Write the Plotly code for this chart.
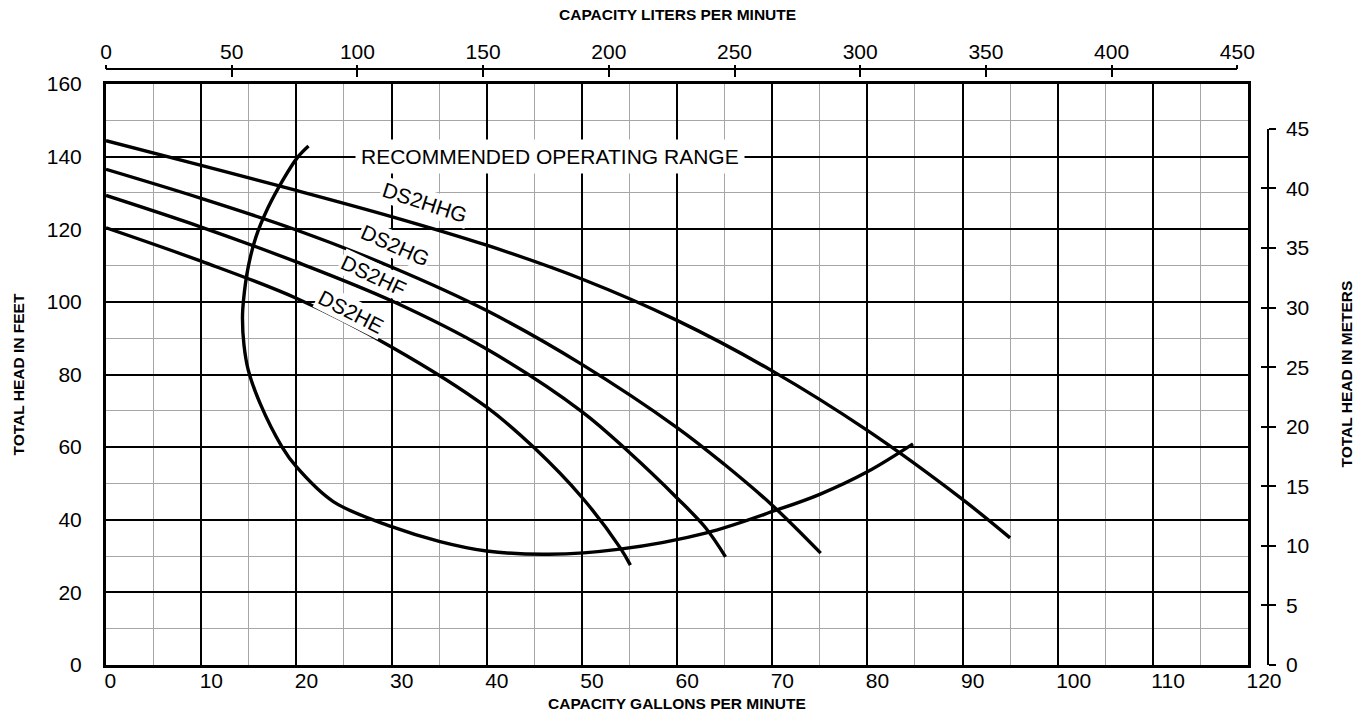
import plotly.graph_objects as go

# ---------------- data ----------------
gpm_ticks = [0, 10, 20, 30, 40, 50, 60, 70, 80, 90, 100, 110, 120]
lpm_ticks = [0, 50, 100, 150, 200, 250, 300, 350, 400, 450]
ft_ticks = [0, 20, 40, 60, 80, 100, 120, 140, 160]
m_ticks = [0, 5, 10, 15, 20, 25, 30, 35, 40, 45]

ds2hhg_gpm = [0, 10, 20, 30, 40, 50, 60, 70, 80, 90, 95]
ds2hhg_ft = [144.4, 137.6, 130.7, 123.5, 115.6, 106.3, 94.9, 81.0, 64.6, 45.6, 35.0]

ds2hg_gpm = [0, 10, 20, 30, 40, 50, 60, 65, 70, 75.1]
ds2hg_ft = [136.5, 128.5, 119.8, 109.6, 97.6, 82.8, 65.4, 55.2, 44.0, 30.8]

ds2hf_gpm = [0, 10, 20, 30, 40, 50, 55, 60, 63, 65.1]
ds2hf_ft = [129.3, 120.6, 111.0, 100.3, 87.0, 69.8, 58.5, 46.0, 37.8, 29.8]

ds2he_gpm = [0, 10, 20, 30, 40, 45, 50, 54, 55.1]
ds2he_ft = [120.4, 111.2, 101.0, 87.6, 71.0, 59.8, 46.2, 32.4, 27.5]

range_gpm = [21.28, 20.07, 18.6, 17.02, 15.76, 14.92, 14.45, 14.34, 14.5, 14.95, 16.18,
             18.49, 20.0, 23.88, 30.02, 35.1, 40.0, 46.5, 54.0, 63.1, 70.5, 75.0, 80.0, 84.8]
range_ft = [142.9, 139.6, 133.6, 125.9, 117.9, 109.3, 100.5, 95.6, 88.1, 81.2, 72.1,
            60.1, 54.6, 45.0, 38.1, 34.0, 31.4, 30.5, 31.9, 36.4, 42.7, 47.0, 53.2, 60.9]

curve_names = ["DS2HHG", "DS2HG", "DS2HF", "DS2HE"]
label_gpm = [33.5, 30.4, 28.1, 25.7]
label_ft = [127.3, 115.5, 107.2, 97.3]
label_angle = [18, 24, 25, 27]

range_label = "RECOMMENDED OPERATING RANGE"
range_label_gpm = 46.7
range_label_ft = 140

# ---------------- geometry (pixels) ----------------
W, H = 1364, 715
PL, PR, PT, PB = 106, 1268, 69, 665      # paper area
AX_R, AX_T = 1248, 84                    # main plot area right / top
GPM_TO_LPM = 3.785411784
FT_TO_M = 0.3048
GPM_MAX, FT_MAX = 120, 160

xdom = (AX_R - PL) / (PR - PL)
ydom = (PB - AX_T) / (PB - PT)
x2dom = xdom * lpm_ticks[-1] / (GPM_MAX * GPM_TO_LPM)
y2dom = ydom * m_ticks[-1] / (FT_MAX * FT_TO_M)


def px_x(x):
    return (x - PL) / (PR - PL)


def px_y(y):
    return (PB - y) / (PB - PT)


FONT = "Liberation Sans, Arial, Helvetica, sans-serif"
BLACK = "#000000"
MINOR = "#a6a6a6"

fig = go.Figure()
for xs, ys in [(ds2hhg_gpm, ds2hhg_ft), (ds2hg_gpm, ds2hg_ft),
               (ds2hf_gpm, ds2hf_ft), (ds2he_gpm, ds2he_ft),
               (range_gpm, range_ft)]:
    fig.add_trace(go.Scatter(x=xs, y=ys, mode="lines",
                             line=dict(color=BLACK, width=3.4, shape="spline", smoothing=1.0),
                             hoverinfo="skip", showlegend=False))

# hidden copies in metric units so that the secondary (metric) axes are drawn
hhg_lpm = [g * GPM_TO_LPM for g in ds2hhg_gpm]
hhg_m = [f * FT_TO_M for f in ds2hhg_ft]
for xa, ya in [("x2", "y2"), ("x3", "y3")]:
    fig.add_trace(go.Scatter(x=hhg_lpm, y=hhg_m, xaxis=xa, yaxis=ya, mode="lines",
                             line=dict(width=0, color="rgba(0,0,0,0)"), opacity=0,
                             hoverinfo="skip", showlegend=False))

annotations = []
for name, gx, fy, ang in zip(curve_names, label_gpm, label_ft, label_angle):
    annotations.append(dict(x=gx, y=fy, xref="x", yref="y", text=name, showarrow=False,
                            textangle=ang, bgcolor="white", borderpad=1,
                            xanchor="center", yanchor="middle",
                            font=dict(family=FONT, size=21, color=BLACK)))
annotations.append(dict(x=range_label_gpm, y=range_label_ft, xref="x", yref="y",
                        text=range_label, showarrow=False, bgcolor="white", borderpad=5,
                        xanchor="center", yanchor="middle",
                        font=dict(family=FONT, size=21, color=BLACK)))
title_font = dict(family=FONT, size=15.5, color=BLACK)
annotations += [
    dict(x=px_x(677), y=px_y(15), xref="paper", yref="paper", showarrow=False,
         xanchor="center", yanchor="middle",
         text="<b>CAPACITY LITERS PER MINUTE</b>", font=title_font),
    dict(x=px_x(677), y=px_y(703), xref="paper", yref="paper", showarrow=False,
         xanchor="center", yanchor="middle",
         text="<b>CAPACITY GALLONS PER MINUTE</b>", font=title_font),
    dict(x=px_x(18), y=px_y(374.5), xref="paper", yref="paper", showarrow=False, textangle=-90,
         xanchor="center", yanchor="middle",
         text="<b>TOTAL HEAD IN FEET</b>", font=title_font),
    dict(x=px_x(1346), y=px_y(374.5), xref="paper", yref="paper", showarrow=False, textangle=-90,
         xanchor="center", yanchor="middle",
         text="<b>TOTAL HEAD IN METERS</b>", font=title_font),
]

tickfont = dict(family=FONT, size=21, color=BLACK)

fig.update_layout(
    width=W, height=H,
    margin=dict(l=PL, r=W - PR, t=PT, b=H - PB, pad=0, autoexpand=False),
    paper_bgcolor="white", plot_bgcolor="rgba(0,0,0,0)",
    showlegend=False,
    annotations=annotations,
    xaxis=dict(domain=[0, xdom], range=[0, GPM_MAX], anchor="y", automargin=False,
               tickmode="array", tickvals=gpm_ticks, ticktext=[str(v) for v in gpm_ticks],
               ticks="", ticklabelposition="outside right", ticklabelstandoff=-5,
               ticklabelshift=-3, tickfont=tickfont,
               showgrid=True, gridcolor=BLACK, gridwidth=1.5,
               minor=dict(dtick=5, showgrid=True, gridcolor=MINOR, gridwidth=1),
               showline=True, linecolor=BLACK, linewidth=3, mirror=True, zeroline=False),
    yaxis=dict(domain=[0, ydom], range=[0, FT_MAX], anchor="x", automargin=False,
               tickmode="array", tickvals=ft_ticks, ticktext=[str(v) for v in ft_ticks],
               ticks="", ticklabelstandoff=17, tickfont=tickfont,
               showgrid=True, gridcolor=BLACK, gridwidth=1.5,
               minor=dict(dtick=10, showgrid=True, gridcolor=MINOR, gridwidth=1),
               showline=True, linecolor=BLACK, linewidth=3, mirror=True, zeroline=False),
    xaxis2=dict(domain=[0, x2dom], range=[0, lpm_ticks[-1]], anchor="free", position=1,
                side="top", automargin=False, tickmode="array", tickvals=lpm_ticks,
                ticktext=[str(v) for v in lpm_ticks],
                ticks="inside", ticklen=7, tickwidth=1.5, tickcolor=BLACK,
                tickfont=tickfont, ticklabelstandoff=1,
                showgrid=False, zeroline=False,
                showline=True, linecolor=BLACK, linewidth=1.5),
    xaxis3=dict(domain=[0, x2dom], range=[0, lpm_ticks[-1]], anchor="free", position=1,
                side="top", automargin=False, tickmode="array", tickvals=lpm_ticks,
                ticks="outside", ticklen=4, tickwidth=1.5, tickcolor=BLACK,
                showticklabels=False, showgrid=False, zeroline=False, showline=False),
    yaxis2=dict(domain=[0, y2dom], range=[0, m_ticks[-1]], anchor="free", position=1,
                side="right", automargin=False, tickmode="array", tickvals=m_ticks,
                ticktext=[str(v) for v in m_ticks],
                ticks="outside", ticklen=7, tickwidth=1.5, tickcolor=BLACK,
                tickfont=tickfont, ticklabelstandoff=6,
                showgrid=False, zeroline=False,
                showline=True, linecolor=BLACK, linewidth=1.5),
    yaxis3=dict(domain=[0, y2dom], range=[0, m_ticks[-1]], anchor="free", position=1,
                side="right", automargin=False, tickmode="array", tickvals=m_ticks,
                ticks="inside", ticklen=7, tickwidth=1.5, tickcolor=BLACK,
                showticklabels=False, showgrid=False, zeroline=False, showline=False),
)

fig.write_html("out.html", config={"displayModeBar": False},
               post_script="document.body.style.margin='0';")
